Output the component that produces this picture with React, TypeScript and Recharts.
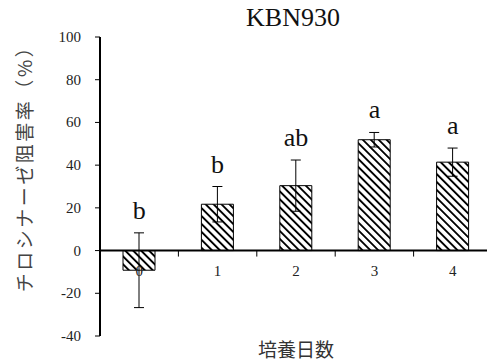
import React from "react";
import {
  ComposedChart,
  Bar,
  Line,
  XAxis,
  YAxis,
  ErrorBar,
  ReferenceLine,
  LabelList,
} from "recharts";

const days = ["0", "1", "2", "3", "4"];
const inhibition = [-9.2, 21.7, 30.4, 51.9, 41.4];
const errors = [17.5, 8.3, 12, 3.4, 6.6];
const letters = ["b", "b", "ab", "a", "a"];
const yTicks = [-40, -20, 0, 20, 40, 60, 80, 100];

const data = days.map((d, i) => ({
  day: d,
  value: inhibition[i],
  err: errors[i],
  top: inhibition[i] + errors[i],
  letter: letters[i],
}));

const W = 493;
const H = 361;
const TOP = 37;
const BOTTOM = 25;
const LEFT = 100;
const RIGHT = 1;
const PLOT_H = H - TOP - BOTTOM;
const PLOT_W = W - LEFT - RIGHT;
const ZERO_Y = TOP + (PLOT_H * 100) / 140;
const SERIF = "Liberation Serif";
const JP = "Noto Sans CJK JP";

const DayTick = (props: any) => {
  const { x, payload, index } = props;
  const half = PLOT_W / days.length / 2;
  return (
    <g>
      <text x={x} y={ZERO_Y + 25} textAnchor="middle" fontSize={15} fontFamily={SERIF} fill="#222">
        {payload.value}
      </text>
      {index < days.length - 1 && (
        <line x1={x + half} x2={x + half} y1={ZERO_Y} y2={ZERO_Y + 6} stroke="#000" strokeWidth={1} />
      )}
    </g>
  );
};

const renderValueTick = (props: any) => {
  const { x, y, payload } = props;
  return (
    <text key={payload.value} x={x} y={y + 5} textAnchor="end" fontSize={15} fontFamily={SERIF} fill="#222">
      {payload.value}
    </text>
  );
};

export default function App() {
  return (
    <div style={{ position: "absolute", left: 0, top: 0, width: 487, height: H, overflow: "hidden", background: "#fff", fontFamily: SERIF }}>
      <div
        style={{
          position: "absolute",
          left: 243,
          width: 100,
          top: 3,
          textAlign: "center",
          fontSize: 26,
          color: "#111",
          whiteSpace: "nowrap",
        }}
      >
        KBN930
      </div>
      <div
        style={{
          position: "absolute",
          left: 236,
          width: 120,
          top: 335,
          textAlign: "center",
          fontFamily: JP,
          fontSize: 19,
          color: "#333",
        }}
      >
        培養日数
      </div>
      <ComposedChart
        width={W}
        height={H}
        data={data}
        margin={{ top: TOP, right: RIGHT, bottom: 0, left: 40 }}
      >
        <defs>
          <pattern id="hatch" patternUnits="userSpaceOnUse" width={5.6} height={5.6} patternTransform="rotate(-45)">
            <rect x={0} y={0} width={5.6} height={5.6} fill="#fff" />
            <rect x={0} y={0} width={1.9} height={5.6} fill="#000" />
          </pattern>
        </defs>
        <XAxis dataKey="day" height={BOTTOM} axisLine={false} tickLine={false} tick={<DayTick />} interval={0} />
        <YAxis
          width={60}
          domain={[-40, 100]}
          ticks={yTicks}
          interval={0}
          tickSize={5}
          tickMargin={14}
          axisLine={{ stroke: "#000", strokeWidth: 2 }}
          tickLine={{ stroke: "#000" }}
          tick={renderValueTick}
          label={{
            content: () => (
              <text
                x={23}
                y={164}
                transform="rotate(-90 23 164)"
                textAnchor="middle"
                dominantBaseline="central"
                fontSize={19}
                letterSpacing={2.5}
                fontFamily={JP}
                fill="#444"
              >
                チロシナーゼ阻害率（%）
              </text>
            ),
          }}
        />
        <Bar dataKey="value" barSize={32} fill="url(#hatch)" stroke="#000" strokeWidth={1} isAnimationActive={false}>
          <ErrorBar dataKey="err" width={5} stroke="#000" strokeWidth={1} direction="y" />
        </Bar>
        <Line dataKey="top" stroke="none" dot={false} activeDot={false} isAnimationActive={false}>
          <LabelList dataKey="letter" position="top" offset={14} fontSize={26} fill="#111" fontFamily={SERIF} />
        </Line>
        <ReferenceLine y={0} stroke="#000" strokeWidth={2} />
      </ComposedChart>
    </div>
  );
}
